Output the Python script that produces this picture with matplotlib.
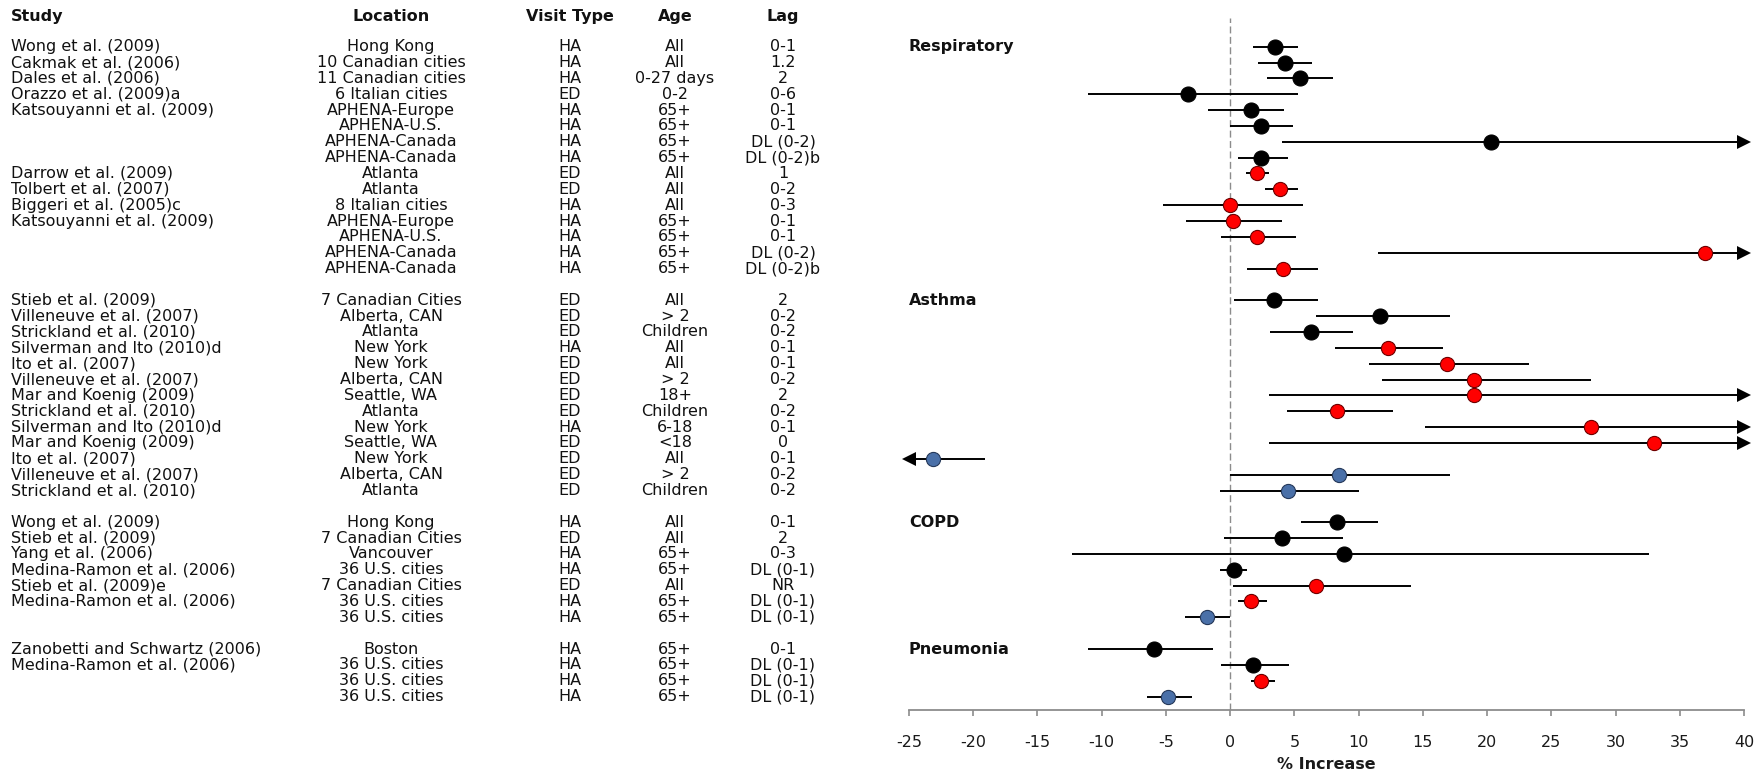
import numpy as np
import matplotlib
matplotlib.use("Agg")
import matplotlib.pyplot as plt
from matplotlib.transforms import blended_transform_factory

plt.rcParams['font.family'] = ['DejaVu Sans']

# ---- data -------------------------------------------------------------
group_names = ["Respiratory", "Asthma", "COPD", "Pneumonia"]
group_sizes = [15, 13, 7, 4]

col_headers = ["Study", "Location", "Visit Type", "Age", "Lag"]

studies = [
    "Wong et al. (2009)", "Cakmak et al. (2006)", "Dales et al. (2006)",
    "Orazzo et al. (2009)a", "Katsouyanni et al. (2009)", "", "", "",
    "Darrow et al. (2009)", "Tolbert et al. (2007)", "Biggeri et al. (2005)c",
    "Katsouyanni et al. (2009)", "", "", "",
    "Stieb et al. (2009)", "Villeneuve et al. (2007)", "Strickland et al. (2010)",
    "Silverman and Ito (2010)d", "Ito et al. (2007)", "Villeneuve et al. (2007)",
    "Mar and Koenig (2009)", "Strickland et al. (2010)", "Silverman and Ito (2010)d",
    "Mar and Koenig (2009)", "Ito et al. (2007)", "Villeneuve et al. (2007)",
    "Strickland et al. (2010)",
    "Wong et al. (2009)", "Stieb et al. (2009)", "Yang et al. (2006)",
    "Medina-Ramon et al. (2006)", "Stieb et al. (2009)e",
    "Medina-Ramon et al. (2006)", "",
    "Zanobetti and Schwartz (2006)", "Medina-Ramon et al. (2006)", "", "",
]

locations = [
    "Hong Kong", "10 Canadian cities", "11 Canadian cities", "6 Italian cities",
    "APHENA-Europe", "APHENA-U.S.", "APHENA-Canada", "APHENA-Canada",
    "Atlanta", "Atlanta", "8 Italian cities", "APHENA-Europe", "APHENA-U.S.",
    "APHENA-Canada", "APHENA-Canada",
    "7 Canadian Cities", "Alberta, CAN", "Atlanta", "New York", "New York",
    "Alberta, CAN", "Seattle, WA", "Atlanta", "New York", "Seattle, WA",
    "New York", "Alberta, CAN", "Atlanta",
    "Hong Kong", "7 Canadian Cities", "Vancouver", "36 U.S. cities",
    "7 Canadian Cities", "36 U.S. cities", "36 U.S. cities",
    "Boston", "36 U.S. cities", "36 U.S. cities", "36 U.S. cities",
]

visit_types = [
    "HA", "HA", "HA", "ED", "HA", "HA", "HA", "HA",
    "ED", "ED", "HA", "HA", "HA", "HA", "HA",
    "ED", "ED", "ED", "HA", "ED", "ED", "ED", "ED", "HA", "ED", "ED", "ED", "ED",
    "HA", "ED", "HA", "HA", "ED", "HA", "HA",
    "HA", "HA", "HA", "HA",
]

ages = [
    "All", "All", "0-27 days", "0-2", "65+", "65+", "65+", "65+",
    "All", "All", "All", "65+", "65+", "65+", "65+",
    "All", "> 2", "Children", "All", "All", "> 2", "18+", "Children", "6-18",
    "<18", "All", "> 2", "Children",
    "All", "All", "65+", "65+", "All", "65+", "65+",
    "65+", "65+", "65+", "65+",
]

lags = [
    "0-1", "1.2", "2", "0-6", "0-1", "0-1", "DL (0-2)", "DL (0-2)b",
    "1", "0-2", "0-3", "0-1", "0-1", "DL (0-2)", "DL (0-2)b",
    "2", "0-2", "0-2", "0-1", "0-1", "0-2", "2", "0-2", "0-1", "0", "0-1",
    "0-2", "0-2",
    "0-1", "2", "0-3", "DL (0-1)", "NR", "DL (0-1)", "DL (0-1)",
    "0-1", "DL (0-1)", "DL (0-1)", "DL (0-1)",
]

estimates = [
    3.5, 4.3, 5.4, -3.3, 1.6, 2.4, 20.3, 2.4,
    2.1, 3.9, 0.0, 0.2, 2.1, 37.0, 4.1,
    3.4, 11.7, 6.3, 12.3, 16.9, 19.0, 19.0, 8.3, 28.1, 33.0, -23.1, 8.5, 4.5,
    8.3, 4.0, 8.9, 0.3, 6.7, 1.6, -1.8,
    -5.9, 1.8, 2.4, -4.8,
]

ci_lower = [
    1.8, 2.2, 2.9, -11.1, -1.7, 0.0, 4.0, 0.6,
    1.2, 2.7, -5.2, -3.4, -0.7, 11.5, 1.3,
    0.3, 6.7, 3.1, 8.2, 10.8, 11.8, 3.0, 4.4, 15.2, 3.0, -np.inf, 0.0, -0.8,
    5.5, -0.5, -12.3, -0.8, 0.2, 0.6, -3.5,
    -11.1, -0.7, 1.6, -6.5,
]

ci_upper = [
    5.3, 6.4, 8.0, 5.3, 4.2, 4.9, np.inf, 4.5,
    3.0, 5.3, 5.7, 4.0, 5.1, np.inf, 6.8,
    6.8, 17.1, 9.6, 16.6, 23.3, 28.1, np.inf, 12.7, np.inf, np.inf, -19.1,
    17.1, 10.0,
    11.5, 8.8, 32.6, 1.3, 14.1, 2.9, 0.0,
    -1.3, 4.6, 3.5, -3.0,
]

series = (
    ["black"] * 8 + ["red"] * 7
    + ["black"] * 3 + ["red"] * 7 + ["blue"] * 3
    + ["black"] * 4 + ["red"] * 2 + ["blue"]
    + ["black"] * 2 + ["red"] + ["blue"]
)

x_ticks = [-25, -20, -15, -10, -5, 0, 5, 10, 15, 20, 25, 30, 35, 40]
x_tick_labels = ["-25", "-20", "-15", "-10", "-5", "0", "5", "10", "15",
                 "20", "25", "30", "35", "40"]
x_label = "% Increase"

# ---- layout ------------------------------------------------------------
W, H = 1764, 773
fig = plt.figure(figsize=(W / 100, H / 100), dpi=100)
ax_left, ax_right, ax_bottom, ax_top = 909, 1744, 710, 18
ax = fig.add_axes([ax_left / W, 1 - ax_bottom / H,
                   (ax_right - ax_left) / W, (ax_bottom - ax_top) / H])

# row slots: one empty slot between groups
row_y = []
group_first = []
slot = 0
for size in group_sizes:
    group_first.append(slot)
    row_y.extend(range(slot, slot + size))
    slot += size + 1

pitch = 15.85
first_row_px = 46.7
y_top = (ax_top - first_row_px) / pitch
y_bot = (ax_bottom - first_row_px) / pitch
xmin, xmax = x_ticks[0], x_ticks[-1]
ax.set_xlim(xmin, xmax)
ax.set_ylim(y_bot, y_top)

palette = {
    "black": ("#000000", "#000000", 10.8),
    "red": ("#ff0000", "#6e0000", 10.2),
    "blue": ("#4a70a8", "#26395a", 10.2),
}

ax.axvline(0, color="#8c8c8c", lw=1.0, linestyle=(0, (5, 2.5)), zorder=1)

for y, est, lo, hi, s in zip(row_y, estimates, ci_lower, ci_upper, series):
    lo_c = max(lo, xmin)
    hi_c = min(hi, xmax)
    ax.plot([lo_c, hi_c], [y, y], color="black", lw=1.4,
            solid_capstyle="butt", zorder=2, clip_on=False)
    if hi > xmax:
        ax.plot(xmax, y, marker=">", ms=9.5, color="black", mew=0,
                zorder=3, clip_on=False)
    if lo < xmin:
        ax.plot(xmin, y, marker="<", ms=9.5, color="black", mew=0,
                zorder=3, clip_on=False)
    face, edge, ms = palette[s]
    ax.plot(est, y, marker="o", ms=ms, mfc=face, mec=edge, mew=0.8,
            zorder=4, clip_on=False)

for name, first in zip(group_names, group_first):
    ax.text(xmin, first, name, ha="left", va="center", fontsize=11.5,
            fontweight="bold", color="#111111")

# ---- axis styling ------------------------------------------------------
for side in ("left", "top", "right"):
    ax.spines[side].set_visible(False)
ax.spines["bottom"].set_color("#8c8c8c")
ax.spines["bottom"].set_linewidth(1.3)
ax.set_yticks([])
ax.set_xticks(x_ticks)
ax.set_xticklabels(x_tick_labels, fontsize=11.5, color="#1a1a1a")
ax.tick_params(axis="x", direction="out", length=4.3, width=1.2,
               color="#8c8c8c", pad=13.5)
ax.set_xlabel(x_label, fontsize=11.5, fontweight="bold", labelpad=5,
              color="#1a1a1a")
ax.patch.set_visible(False)

# ---- table columns -----------------------------------------------------
trans = blended_transform_factory(fig.transFigure, ax.transData)
col_x = [11, 391, 570, 675, 783]
col_ha = ["left", "center", "center", "center", "center"]
header_y = (16.7 - first_row_px) / pitch

for text, cx, ha in zip(col_headers, col_x, col_ha):
    fig.text(cx / W, header_y, text, transform=trans, ha=ha, va="center",
             fontsize=11.5, fontweight="bold", color="#111111")

columns = [studies, locations, visit_types, ages, lags]
for values, cx, ha in zip(columns, col_x, col_ha):
    for y, val in zip(row_y, values):
        if val:
            fig.text(cx / W, y, val, transform=trans, ha=ha, va="center",
                     fontsize=11.5, color="#111111")

fig.savefig("out.png", dpi=100, facecolor="white")
